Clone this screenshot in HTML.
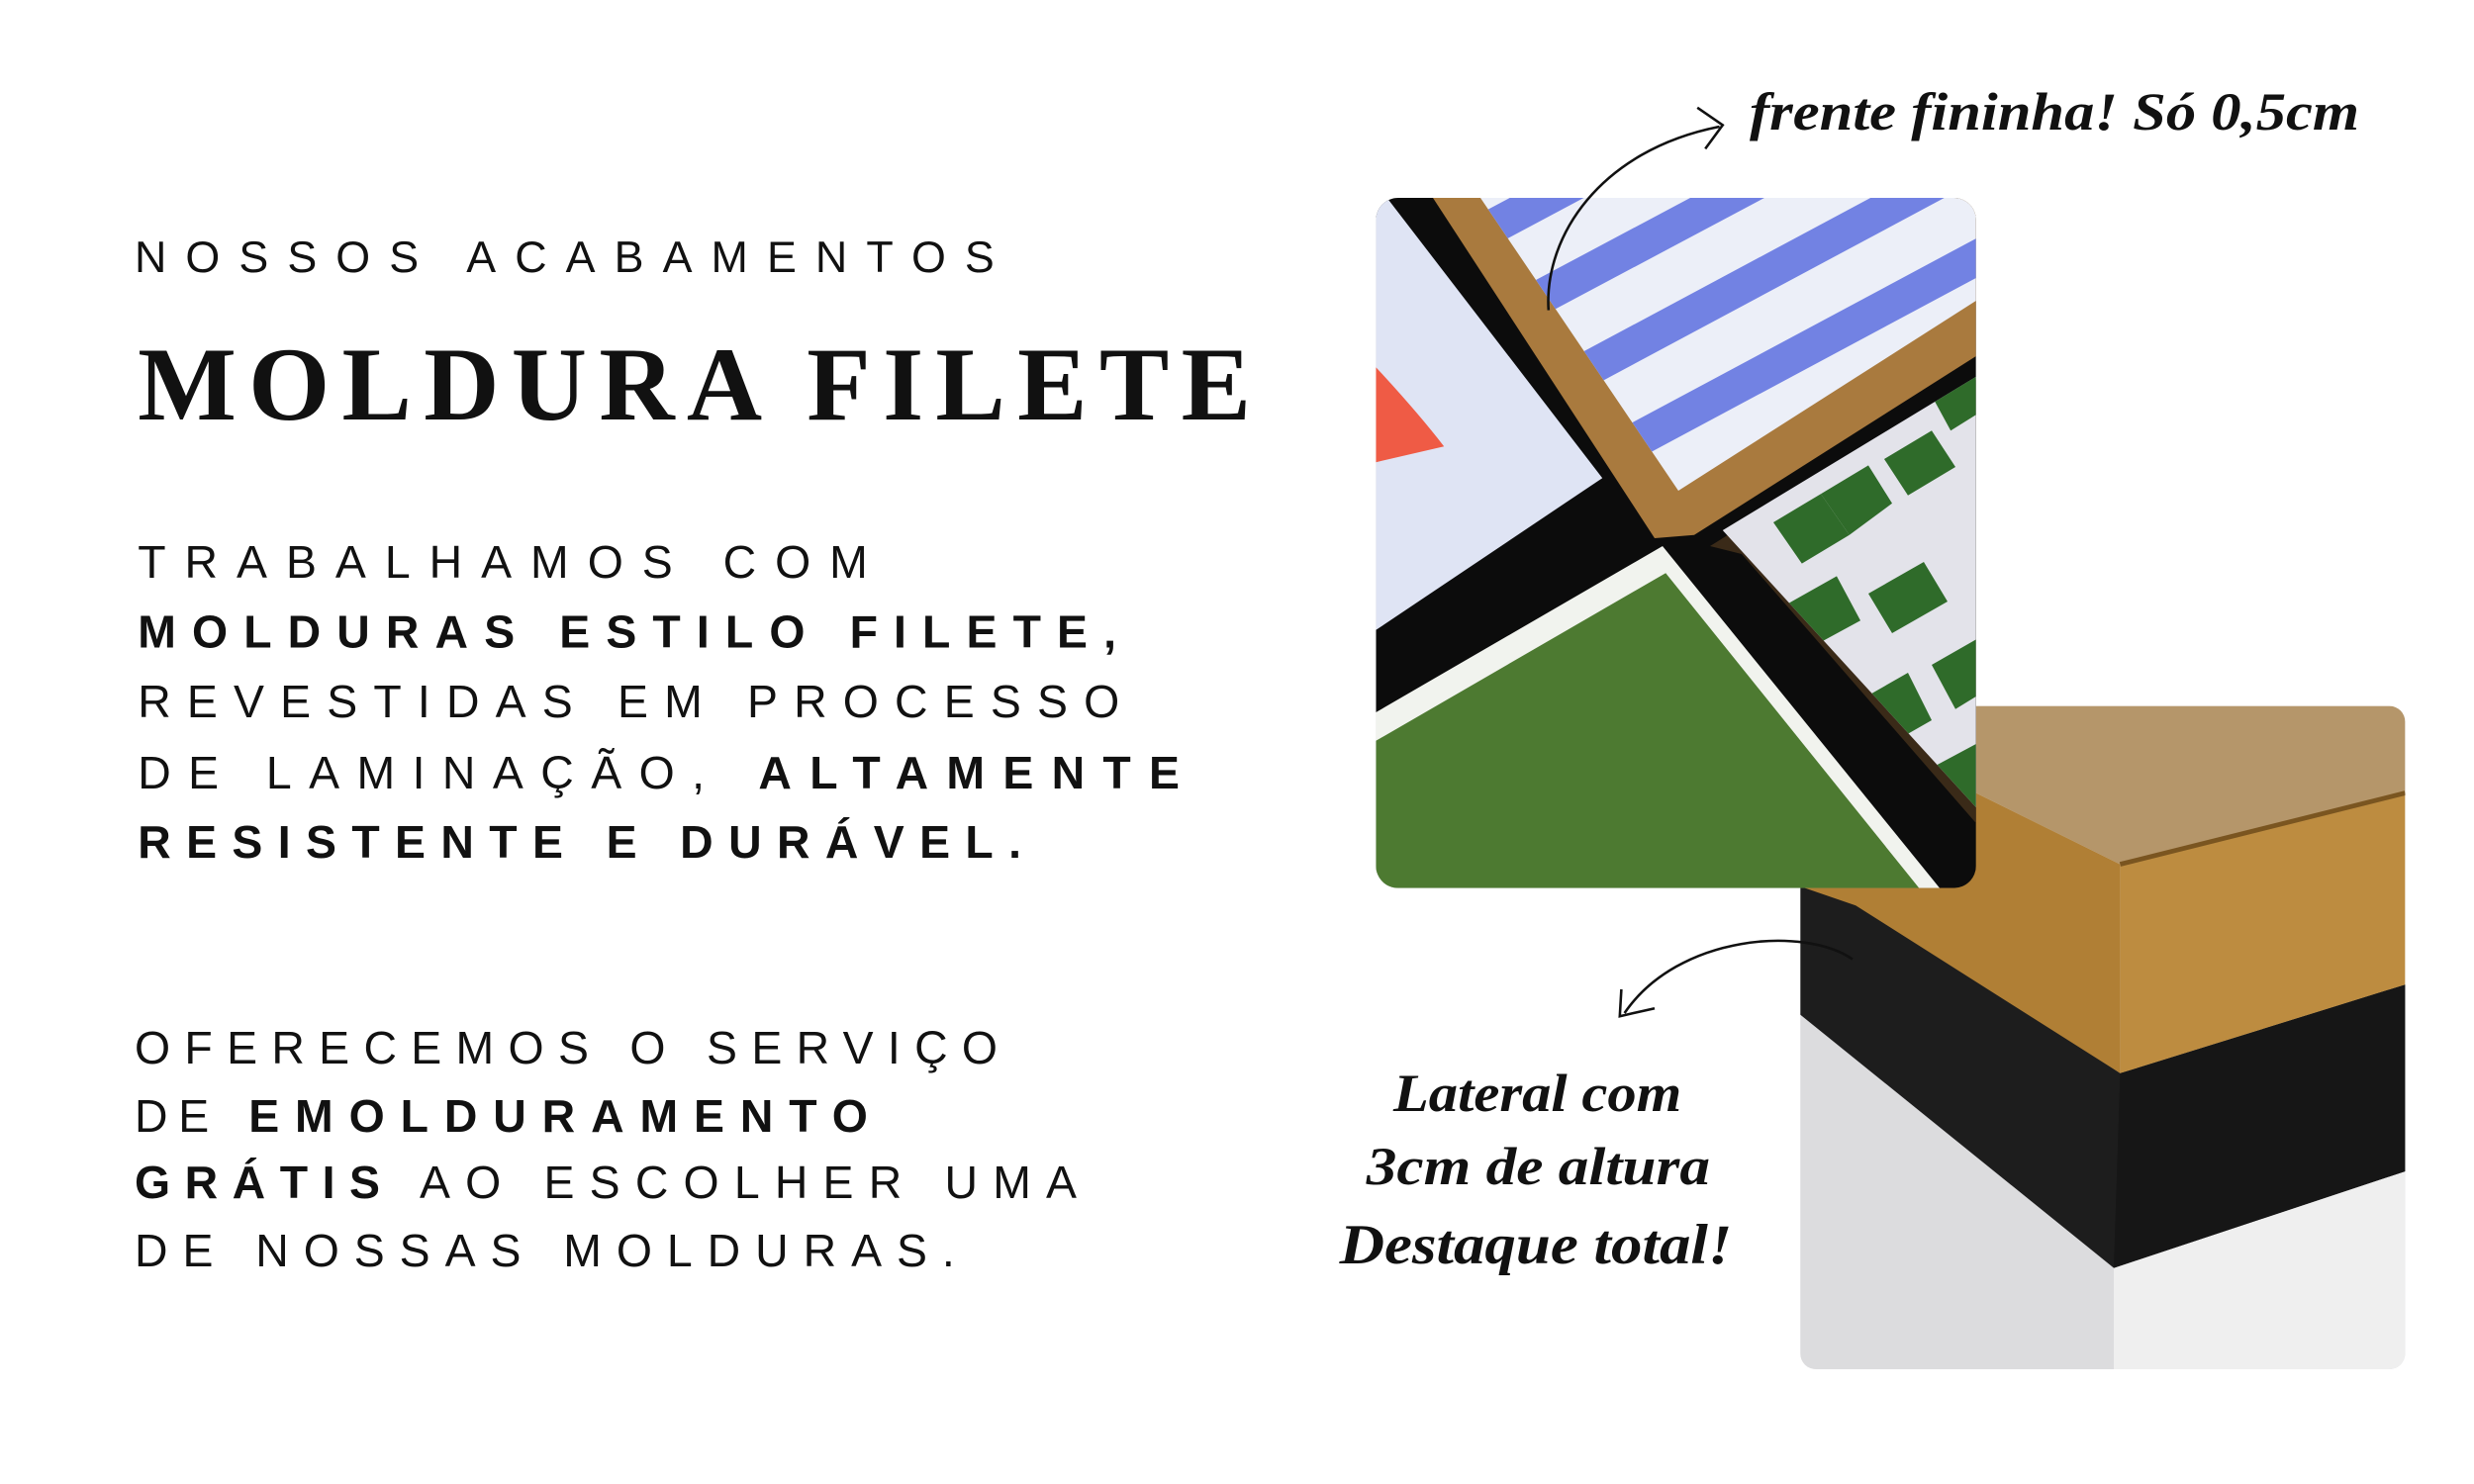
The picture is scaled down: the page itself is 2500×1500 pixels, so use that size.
<!DOCTYPE html>
<html><head><meta charset="utf-8"><style>
html,body{margin:0;padding:0;background:#fff;width:2500px;height:1500px;overflow:hidden}
svg{display:block}
.s{font-family:"Liberation Sans",sans-serif;fill:#111}
.b{font-family:"Liberation Sans",sans-serif;font-weight:bold;fill:#111}
.h{font-family:"Liberation Serif",serif;font-style:italic;font-weight:bold;fill:#111}
</style></head><body>
<svg width="2500" height="1500" viewBox="0 0 2500 1500" xmlns="http://www.w3.org/2000/svg">
<g transform="scale(1.6)">
<defs>
<clipPath id="c1"><rect x="869" y="125" width="379" height="436" rx="14"/></clipPath>
<clipPath id="c2"><rect x="1137" y="446" width="382" height="419" rx="10"/></clipPath>
<clipPath id="c3"><polygon points="935,125 1248,125 1248,190 1060,310"/></clipPath>
<clipPath id="c4"><polygon points="1088,335 1248,238 1248,510"/></clipPath>
</defs>

<text class="s" x="85" y="172" font-size="28" textLength="543" lengthAdjust="spacing">NOSSOS ACABAMENTOS</text>
<text x="87" y="265" font-size="66" font-family="Liberation Serif,serif" font-weight="bold" fill="#111" textLength="703" lengthAdjust="spacing">MOLDURA FILETE</text>

<text class="s" x="87" y="365" font-size="29" textLength="461" lengthAdjust="spacing">TRABALHAMOS COM</text>
<text class="b" x="87" y="409" font-size="29" textLength="618" lengthAdjust="spacing">MOLDURAS ESTILO FILETE,</text>
<text class="s" x="87" y="453" font-size="29" textLength="620" lengthAdjust="spacing">REVESTIDAS EM PROCESSO</text>
<text class="s" x="87" y="498" font-size="29" textLength="358" lengthAdjust="spacing">DE LAMINAÇÃO,</text>
<text class="b" x="479" y="498" font-size="29" textLength="266" lengthAdjust="spacing">ALTAMENTE</text>
<text class="b" x="87" y="542" font-size="29" textLength="558" lengthAdjust="spacing">RESISTENTE E DURÁVEL.</text>

<text class="s" x="85" y="672" font-size="29" textLength="545" lengthAdjust="spacing">OFERECEMOS O SERVIÇO</text>
<text class="s" x="85" y="715" font-size="29" textLength="47" lengthAdjust="spacing">DE</text>
<text class="b" x="157" y="715" font-size="29" textLength="391" lengthAdjust="spacing">EMOLDURAMENTO</text>
<text class="b" x="85" y="757" font-size="29" textLength="155" lengthAdjust="spacing">GRÁTIS</text>
<text class="s" x="265" y="757" font-size="29" textLength="415" lengthAdjust="spacing">AO ESCOLHER UMA</text>
<text class="s" x="85" y="800" font-size="29" textLength="518" lengthAdjust="spacing">DE NOSSAS MOLDURAS.</text>

<!-- photo 2 -->
<g clip-path="url(#c2)">
<rect x="1137" y="446" width="382" height="419" fill="#e6e6e8"/>
<polygon points="1137,640 1335,800 1519,740 1519,865 1137,865" fill="#dcdcde"/>
<polygon points="1335,800 1519,740 1519,865 1335,865" fill="#efefef"/>
<polygon points="1137,560 1175,565 1339,678 1519,622 1519,740 1335,801 1137,641" fill="#1d1d1d"/>
<polygon points="1339,678 1519,622 1519,740 1335,801" fill="#161616"/>
<polygon points="1137,446 1519,446 1519,501 1339,546 1248,501 1137,480" fill="#b5966a"/>
<polygon points="1137,480 1248,501 1339,546 1339,678 1172,572 1137,560" fill="#b07f35"/>
<polygon points="1339,546 1519,501 1519,622 1339,678" fill="#bd8c40"/>
<line x1="1339" y1="546" x2="1519" y2="501" stroke="#7a5520" stroke-width="3"/>
</g>

<!-- photo 1 -->
<g clip-path="url(#c1)">
<rect x="869" y="125" width="379" height="436" fill="#0c0c0c"/>
<polygon points="869,125 876,125 1012,302 869,398" fill="#dfe4f4"/>
<path d="M869,232 Q895,260 912,282 L869,292 Z" fill="#ef5b45"/>
<polygon points="905,125 1248,125 1248,225 1070,338 1045,340" fill="#a97a3e"/>
<polygon points="935,125 1248,125 1248,190 1060,310" fill="#eceff8"/>
<g clip-path="url(#c3)" stroke="#7282e3" stroke-width="22">
<line x1="930" y1="150" x2="1080" y2="70"/>
<line x1="950" y1="200" x2="1260" y2="35"/>
<line x1="975" y1="248" x2="1270" y2="90"/>
<line x1="1000" y1="296" x2="1280" y2="146"/>
<line x1="1030" y1="345" x2="1290" y2="205"/>
</g>
<polygon points="1080,345 1248,240 1248,520 1100,350" fill="#3a2a18"/>
<polygon points="1088,335 1248,238 1248,510" fill="#e3e3ea"/>
<g clip-path="url(#c4)" fill="#2f6b2a">
<polygon points="1120,330 1150,312 1168,338 1138,356"/>
<polygon points="1150,312 1180,294 1195,318 1168,338"/>
<polygon points="1190,290 1220,272 1235,295 1205,313"/>
<polygon points="1220,250 1248,234 1248,262 1232,272"/>
<polygon points="1180,375 1215,355 1230,380 1195,400"/>
<polygon points="1128,382 1160,364 1175,392 1142,410"/>
<polygon points="1220,420 1248,404 1248,440 1235,448"/>
<polygon points="1170,445 1205,425 1220,455 1185,475"/>
<polygon points="1220,485 1248,470 1248,510 1235,515"/>
</g>
<polygon points="869,450 1050,345 1225,561 869,561" fill="#f1f3ee"/>
<polygon points="869,468 1052,362 1212,561 869,561" fill="#4d7a31"/>
</g>

<path d="M978,196 C975,150 1010,95 1086,80" fill="none" stroke="#111" stroke-width="1.6"/>
<path d="M1072,68 L1088,79 L1077,94" fill="none" stroke="#111" stroke-width="1.6"/>
<path d="M1170,606 C1140,585 1060,590 1026,640" fill="none" stroke="#111" stroke-width="1.6"/>
<path d="M1024,625 L1023,642 L1045,637" fill="none" stroke="#111" stroke-width="1.6"/>

<text class="h" x="1105" y="82" font-size="34" textLength="385" lengthAdjust="spacingAndGlyphs">frente fininha! Só 0,5cm</text>
<text class="h" x="880" y="702" font-size="34" textLength="182" lengthAdjust="spacingAndGlyphs">Lateral com</text>
<text class="h" x="863" y="748" font-size="34" textLength="217" lengthAdjust="spacingAndGlyphs">3cm de altura</text>
<text class="h" x="846" y="798" font-size="36" textLength="248" lengthAdjust="spacingAndGlyphs">Destaque total!</text>
</g>
</svg>
</body></html>
